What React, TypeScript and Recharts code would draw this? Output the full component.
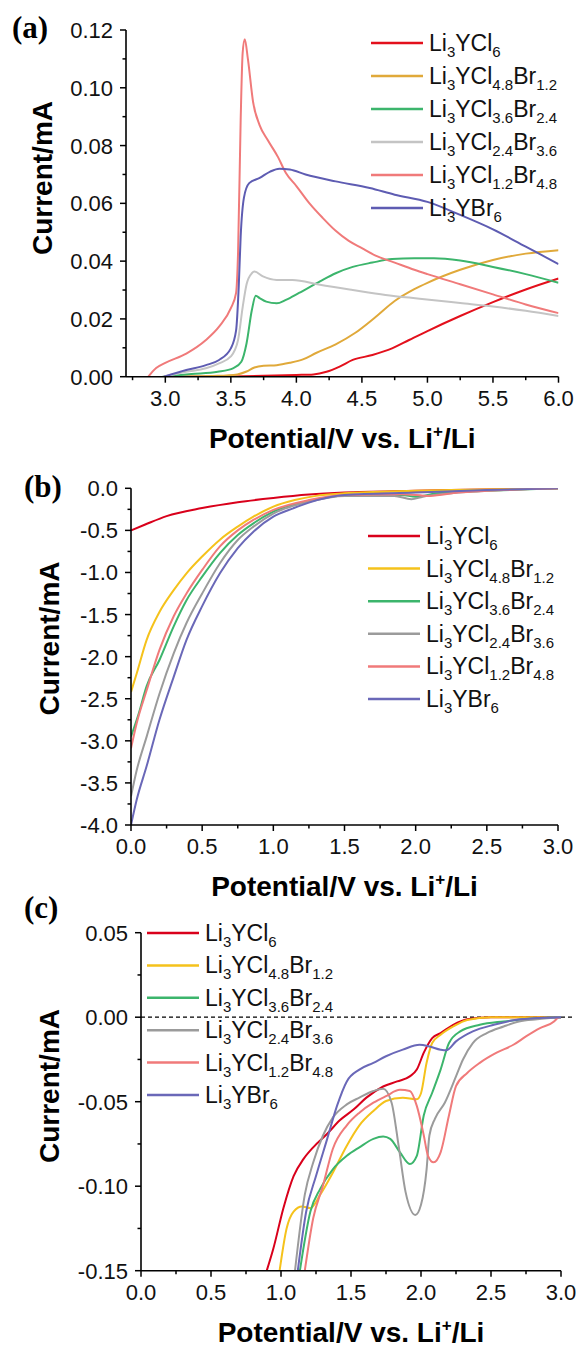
import { Label, Legend, Line, LineChart, ReferenceLine, XAxis, YAxis } from 'recharts'

type Pt = [number, number]

const names = ['Li3YCl6', 'Li3YCl4.8Br1.2', 'Li3YCl3.6Br2.4', 'Li3YCl2.4Br3.6', 'Li3YCl1.2Br4.8', 'Li3YBr6']

// (a) oxidation scan
const aRed: Pt[] = [[2.99, 0], [3.5, 0.0001], [3.75, 0.0003], [4.0, 0.0006], [4.13, 0.0008], [4.23, 0.0017], [4.33, 0.0035], [4.43, 0.0058], [4.58, 0.0075], [4.73, 0.0098], [4.86, 0.0127], [5.0, 0.0158], [5.25, 0.021], [5.5, 0.0258], [5.75, 0.0302], [6.0, 0.034]]
const aYellow: Pt[] = [[2.99, 0], [3.4, 0.0003], [3.55, 0.0008], [3.62, 0.0018], [3.68, 0.0032], [3.75, 0.0038], [3.85, 0.004], [3.95, 0.0048], [4.05, 0.006], [4.15, 0.0082], [4.3, 0.0112], [4.45, 0.0152], [4.6, 0.0205], [4.75, 0.0262], [4.9, 0.0303], [5.0, 0.0325], [5.25, 0.037], [5.5, 0.0404], [5.75, 0.0426], [6.0, 0.0438]]
const aGreen: Pt[] = [[2.98, 0], [3.2, 0.0009], [3.4, 0.0017], [3.52, 0.003], [3.58, 0.0052], [3.62, 0.0116], [3.66, 0.023], [3.69, 0.028], [3.72, 0.0272], [3.77, 0.026], [3.85, 0.0254], [3.92, 0.0266], [4.02, 0.029], [4.18, 0.033], [4.3, 0.0358], [4.43, 0.038], [4.58, 0.0395], [4.73, 0.0407], [4.9, 0.041], [5.05, 0.041], [5.25, 0.0402], [5.5, 0.038], [5.75, 0.0355], [6.0, 0.0325]]
const aGrey: Pt[] = [[2.98, 0], [3.16, 0.0017], [3.31, 0.0029], [3.41, 0.0046], [3.5, 0.007], [3.555, 0.0127], [3.59, 0.024], [3.62, 0.032], [3.66, 0.0358], [3.68, 0.0364], [3.745, 0.0347], [3.85, 0.0335], [3.97, 0.0335], [4.18, 0.0318], [4.43, 0.03], [4.68, 0.0283], [4.94, 0.027], [5.25, 0.0255], [5.5, 0.0243], [5.75, 0.0228], [6.0, 0.021]]
const aPink: Pt[] = [[2.87, 0], [2.93, 0.003], [3.0, 0.0048], [3.16, 0.008], [3.31, 0.0127], [3.41, 0.0173], [3.5, 0.0237], [3.54, 0.029], [3.555, 0.043], [3.575, 0.089], [3.59, 0.112], [3.606, 0.1168], [3.63, 0.11], [3.67, 0.095], [3.72, 0.087], [3.78, 0.082], [3.86, 0.076], [3.92, 0.0705], [4.0, 0.066], [4.1, 0.06], [4.2, 0.055], [4.3, 0.0505], [4.4, 0.047], [4.5, 0.0445], [4.6, 0.042], [4.75, 0.0395], [4.9, 0.037], [5.0, 0.0355], [5.25, 0.032], [5.5, 0.0285], [5.75, 0.025], [6.0, 0.022]]
const aPurple: Pt[] = [[2.99, 0], [3.16, 0.0023], [3.31, 0.004], [3.41, 0.0058], [3.5, 0.0098], [3.54, 0.016], [3.56, 0.031], [3.575, 0.0486], [3.6, 0.062], [3.64, 0.067], [3.72, 0.0688], [3.8, 0.071], [3.87, 0.072], [3.95, 0.0717], [4.07, 0.07], [4.3, 0.0676], [4.56, 0.0653], [4.75, 0.063], [5.0, 0.0605], [5.25, 0.056], [5.5, 0.051], [5.75, 0.045], [6.0, 0.039]]

// (b) reduction scan
const bRed: Pt[] = [[0, -0.5], [0.1, -0.43], [0.25, -0.33], [0.5, -0.235], [0.75, -0.165], [1.0, -0.115], [1.25, -0.075], [1.5, -0.05], [2.0, -0.03], [2.5, -0.012], [3.0, 0]]
const bYellow: Pt[] = [[0, -2.42], [0.04, -2.2], [0.11, -1.8], [0.2, -1.47], [0.3, -1.21], [0.39, -1.01], [0.5, -0.81], [0.625, -0.61], [0.75, -0.455], [0.86, -0.337], [1.0, -0.218], [1.15, -0.14], [1.3, -0.09], [1.5, -0.06], [2.0, -0.03], [2.5, -0.01], [3.0, 0]]
const bGreen: Pt[] = [[0, -2.95], [0.05, -2.7], [0.11, -2.35], [0.2, -2.04], [0.3, -1.64], [0.39, -1.33], [0.5, -1.05], [0.625, -0.77], [0.75, -0.555], [0.86, -0.416], [1.0, -0.277], [1.25, -0.15], [1.5, -0.085], [1.9, -0.08], [2.0, -0.1], [2.15, -0.06], [2.5, -0.03], [3.0, 0]]
const bGrey: Pt[] = [[0, -3.66], [0.04, -3.35], [0.11, -2.95], [0.2, -2.44], [0.3, -1.96], [0.39, -1.6], [0.5, -1.25], [0.625, -0.89], [0.75, -0.614], [0.86, -0.455], [1.0, -0.3], [1.25, -0.16], [1.5, -0.09], [1.85, -0.09], [1.97, -0.13], [2.05, -0.1], [2.5, -0.03], [3.0, 0]]
const bPink: Pt[] = [[0, -3.09], [0.04, -2.79], [0.11, -2.4], [0.2, -1.92], [0.3, -1.52], [0.39, -1.25], [0.5, -0.97], [0.625, -0.69], [0.75, -0.5], [0.86, -0.376], [1.0, -0.257], [1.25, -0.14], [1.5, -0.08], [1.9, -0.07], [2.1, -0.09], [2.3, -0.05], [2.5, -0.03], [3.0, 0]]
const bPurple: Pt[] = [[0, -4.0], [0.04, -3.7], [0.11, -3.3], [0.2, -2.75], [0.3, -2.24], [0.39, -1.8], [0.5, -1.4], [0.625, -1.01], [0.75, -0.71], [0.86, -0.515], [1.0, -0.337], [1.14, -0.238], [1.25, -0.17], [1.5, -0.08], [2.0, -0.05], [2.5, -0.02], [3.0, 0]]

// (c) zoom of the reduction scan
const cRed: Pt[] = [[0.898, -0.15], [0.945, -0.137], [1.017, -0.113], [1.09, -0.094], [1.16, -0.084], [1.23, -0.077], [1.33, -0.069], [1.42, -0.061], [1.52, -0.0545], [1.61, -0.0476], [1.73, -0.041], [1.83, -0.038], [1.92, -0.035], [1.97, -0.031], [2.02, -0.021], [2.08, -0.0124], [2.14, -0.0094], [2.23, -0.0045], [2.33, -0.0012], [2.5, 0], [3.0, 0]]
const cYellow: Pt[] = [[0.99, -0.15], [1.04, -0.125], [1.09, -0.115], [1.15, -0.112], [1.21, -0.113], [1.28, -0.105], [1.37, -0.092], [1.47, -0.076], [1.56, -0.064], [1.66, -0.0555], [1.75, -0.0496], [1.87, -0.0476], [1.97, -0.0486], [2.0, -0.045], [2.04, -0.027], [2.08, -0.0153], [2.14, -0.0104], [2.23, -0.0055], [2.33, -0.0016], [2.5, 0], [3.0, 0]]
const cGreen: Pt[] = [[1.135, -0.15], [1.21, -0.115], [1.28, -0.1016], [1.37, -0.09], [1.47, -0.082], [1.56, -0.077], [1.66, -0.072], [1.73, -0.0706], [1.78, -0.072], [1.85, -0.08], [1.92, -0.0869], [1.97, -0.082], [2.02, -0.058], [2.08, -0.0447], [2.14, -0.031], [2.2, -0.0153], [2.28, -0.0084], [2.42, -0.0045], [2.59, -0.0025], [2.83, -0.0006], [3.0, 0]]
const cGrey: Pt[] = [[1.1, -0.15], [1.17, -0.105], [1.23, -0.086], [1.3, -0.07], [1.37, -0.0594], [1.47, -0.0516], [1.56, -0.0476], [1.66, -0.0437], [1.73, -0.0424], [1.79, -0.0506], [1.84, -0.076], [1.89, -0.1035], [1.96, -0.117], [2.0, -0.111], [2.04, -0.09], [2.06, -0.07], [2.1, -0.06], [2.17, -0.0506], [2.25, -0.035], [2.3, -0.025], [2.37, -0.0153], [2.47, -0.0094], [2.59, -0.0055], [2.7, -0.0025], [2.83, -0.0012], [3.0, 0]]
const cPink: Pt[] = [[1.17, -0.15], [1.23, -0.119], [1.3, -0.0996], [1.37, -0.078], [1.47, -0.064], [1.56, -0.0565], [1.66, -0.0506], [1.75, -0.0467], [1.85, -0.043], [1.92, -0.0437], [1.97, -0.0525], [2.02, -0.07], [2.05, -0.082], [2.09, -0.0859], [2.14, -0.08], [2.2, -0.058], [2.25, -0.0408], [2.33, -0.033], [2.42, -0.027], [2.54, -0.021], [2.66, -0.0163], [2.75, -0.0114], [2.85, -0.0065], [2.95, -0.0025], [2.98, 0]]
const cPurple: Pt[] = [[1.12, -0.15], [1.18, -0.115], [1.25, -0.094], [1.33, -0.072], [1.4, -0.0525], [1.47, -0.038], [1.56, -0.031], [1.66, -0.027], [1.75, -0.0231], [1.87, -0.0192], [1.99, -0.0163], [2.06, -0.0173], [2.14, -0.0192], [2.18, -0.0196], [2.25, -0.0143], [2.37, -0.0084], [2.52, -0.0045], [2.71, -0.0012], [3.0, 0]]

const aXTicks = [2.75, 3.0, 3.25, 3.5, 3.75, 4.0, 4.25, 4.5, 4.75, 5.0, 5.25, 5.5, 5.75, 6.0]
const aYTicks = [0, 0.01, 0.02, 0.03, 0.04, 0.05, 0.06, 0.07, 0.08, 0.09, 0.1, 0.11, 0.12]
const bcXTicks = [0, 0.25, 0.5, 0.75, 1.0, 1.25, 1.5, 1.75, 2.0, 2.25, 2.5, 2.75, 3.0]
const bYTicks = [-4, -3.75, -3.5, -3.25, -3, -2.75, -2.5, -2.25, -2, -1.75, -1.5, -1.25, -1, -0.75, -0.5, -0.25, 0]
const cYTicks = [-0.15, -0.125, -0.1, -0.075, -0.05, -0.025, 0, 0.025, 0.05]

const colorsA = ['#e3101c', '#e0a93a', '#3cb56c', '#c4c4c4', '#f07a7a', '#5e5cb2']
const colorsBC = ['#d9001b', '#f5c21b', '#3cb56c', '#9b9b9b', '#f07a7a', '#6a68b8']

const SANS = 'Liberation Sans, Arial, sans-serif'
const W = 577

const isMajor = (v: number, step: number) => Math.abs(v / step - Math.round(v / step)) < 1e-6

function formula(name: string) {
  const parts = name.split(/(\d+(?:\.\d+)?)/).filter((p) => p !== '')
  let sub = false
  return parts.map((p, k) => {
    const isNum = /^\d/.test(p)
    const dy = isNum && !sub ? 6 : !isNum && sub ? -6 : 0
    sub = isNum
    return (
      <tspan key={k} dy={dy} fontSize={isNum ? 15 : 23}>
        {p}
      </tspan>
    )
  })
}

type PanelProps = {
  top: number
  height: number
  plot: { l: number; r: number; t: number; b: number }
  xDomain: [number, number]
  yDomain: [number, number]
  xTicks: number[]
  yTicks: number[]
  xMajor: number
  yMajor: number
  yDigits: number
  series: Pt[][]
  colors: string[]
  tag: string
  tagPos: [number, number]
  yTitle: [number, number]
  legendPos: [number, number]
  legendGap: number
  zeroLine?: boolean
}

function Panel(p: PanelProps) {
  const xAxisH = 40
  const margin = { top: p.plot.t, right: W - p.plot.r, bottom: p.height - p.plot.b - xAxisH, left: 0 }
  const xMid = (p.plot.l + p.plot.r) / 2

  const renderXTick = (props: any) => {
    const { x, y, payload } = props
    const major = isMajor(payload.value, p.xMajor)
    return (
      <g>
        <line x1={x} x2={x} y1={y} y2={y + (major ? 6 : 3.5)} stroke="#000" strokeWidth={1.5} />
        {major && (
          <text x={x} y={y + 29} textAnchor="middle" fontSize={22} fontFamily={SANS} fill="#111">
            {payload.value.toFixed(1)}
          </text>
        )}
      </g>
    )
  }

  const renderYTick = (props: any) => {
    const { x, y, payload } = props
    const major = isMajor(payload.value, p.yMajor)
    return (
      <g>
        <line x1={x} x2={x - (major ? 6 : 3.5)} y1={y} y2={y} stroke="#000" strokeWidth={1.5} />
        {major && (
          <text x={x - 13} y={y + 8} textAnchor="end" fontSize={22} fontFamily={SANS} fill="#111">
            {payload.value.toFixed(p.yDigits)}
          </text>
        )}
      </g>
    )
  }

  // legend rows follow the series order (Li3YCl6 first)
  const renderLegend = () => (
    <svg width={240} height={6 * p.legendGap + 12} style={{ display: 'block', overflow: 'visible' }}>
      {names.map((name, k) => {
        const y = 15 + k * p.legendGap
        return (
          <g key={name}>
            <line x1={0} x2={52} y1={y} y2={y} stroke={p.colors[k]} strokeWidth={2.5} />
            <text x={58} y={y + 8} fontSize={23} fontFamily={SANS} fill="#111">
              {formula(name)}
            </text>
          </g>
        )
      })}
    </svg>
  )

  return (
    <div style={{ position: 'absolute', left: 0, top: p.top }}>
      <LineChart width={W} height={p.height} margin={margin}>
        <XAxis
          type="number"
          dataKey="v"
          domain={p.xDomain}
          ticks={p.xTicks}
          interval={0}
          tickLine={false}
          tickSize={0}
          tickMargin={0}
          tick={renderXTick}
          axisLine={{ stroke: '#000', strokeWidth: 1.6 }}
          height={xAxisH}
          allowDataOverflow
        >
          <Label
            content={() => (
              <text x={xMid} y={p.plot.b + 71} textAnchor="middle" fontSize={28} fontWeight="bold" fontFamily={SANS} fill="#000">
                Potential/V vs. Li
                <tspan dy={-11} fontSize={17}>+</tspan>
                <tspan dy={11}>/Li</tspan>
              </text>
            )}
          />
        </XAxis>
        <YAxis
          type="number"
          domain={p.yDomain}
          ticks={p.yTicks}
          interval={0}
          width={p.plot.l}
          tickLine={false}
          tickSize={0}
          tickMargin={0}
          tick={renderYTick}
          axisLine={{ stroke: '#000', strokeWidth: 1.6 }}
          allowDataOverflow
        >
          <Label
            content={() => (
              <g>
                <text
                  x={p.yTitle[0]}
                  y={p.yTitle[1]}
                  transform={`rotate(-90 ${p.yTitle[0]} ${p.yTitle[1]})`}
                  textAnchor="middle"
                  fontSize={28}
                  fontWeight="bold"
                  fontFamily={SANS}
                  fill="#000"
                >
                  Current/mA
                </text>
                <text x={p.tagPos[0]} y={p.tagPos[1]} fontSize={31} fontWeight="bold" fontFamily="Liberation Serif, Times New Roman, serif" fill="#000">
                  {p.tag}
                </text>
              </g>
            )}
          />
        </YAxis>
        {p.zeroLine && (
          <ReferenceLine
            segment={[{ x: 0, y: 0 }, { x: 3.1, y: 0 }]}
            ifOverflow="visible"
            stroke="#000"
            strokeWidth={1.3}
            strokeDasharray="4 3"
          />
        )}
        {p.series.map((pts, k) => (
          <Line
            key={names[k]}
            name={names[k]}
            data={pts.map(([v, i]) => ({ v, i }))}
            dataKey="i"
            type="monotone"
            stroke={p.colors[k]}
            strokeWidth={2}
            dot={false}
            activeDot={false}
            isAnimationActive={false}
          />
        ))}
        <Legend
          layout="horizontal"
          verticalAlign="middle"
          align="center"
          content={renderLegend}
          wrapperStyle={{ left: p.legendPos[0], top: p.legendPos[1], width: 240, height: 6 * p.legendGap + 12 }}
        />
      </LineChart>
    </div>
  )
}

export default function App() {
  return (
    <div style={{ position: 'absolute', left: 0, top: 0, width: W, height: 1347, background: '#fff' }}>
      <Panel
        top={0}
        height={470}
        plot={{ l: 126, r: 558.5, t: 30, b: 376.7 }}
        xDomain={[2.7, 6.0]}
        yDomain={[0, 0.12]}
        xTicks={aXTicks}
        yTicks={aYTicks}
        xMajor={0.5}
        yMajor={0.02}
        yDigits={2}
        series={[aRed, aYellow, aGreen, aGrey, aPink, aPurple]}
        colors={colorsA}
        tag="(a)"
        tagPos={[12, 38]}
        yTitle={[52, 178]}
        legendPos={[371, 27.7]}
        legendGap={33}
      />
      <Panel
        top={455}
        height={460}
        plot={{ l: 131, r: 558, t: 33.3, b: 370 }}
        xDomain={[0, 3]}
        yDomain={[-4, 0]}
        xTicks={bcXTicks}
        yTicks={bYTicks}
        xMajor={0.5}
        yMajor={0.5}
        yDigits={1}
        series={[bRed, bYellow, bGreen, bGrey, bPink, bPurple]}
        colors={colorsBC}
        tag="(b)"
        tagPos={[24, 42]}
        yTitle={[59, 183.5]}
        legendPos={[368, 66]}
        legendGap={32.6}
      />
      <Panel
        top={880}
        height={467}
        plot={{ l: 141, r: 561, t: 52.7, b: 390.7 }}
        xDomain={[0, 3]}
        yDomain={[-0.15, 0.05]}
        xTicks={bcXTicks}
        yTicks={cYTicks}
        xMajor={0.5}
        yMajor={0.05}
        yDigits={2}
        series={[cRed, cYellow, cGreen, cGrey, cPink, cPurple]}
        colors={colorsBC}
        tag="(c)"
        tagPos={[24, 38]}
        yTitle={[59, 206]}
        legendPos={[147, 38.3]}
        legendGap={32.4}
        zeroLine
      />
    </div>
  )
}
